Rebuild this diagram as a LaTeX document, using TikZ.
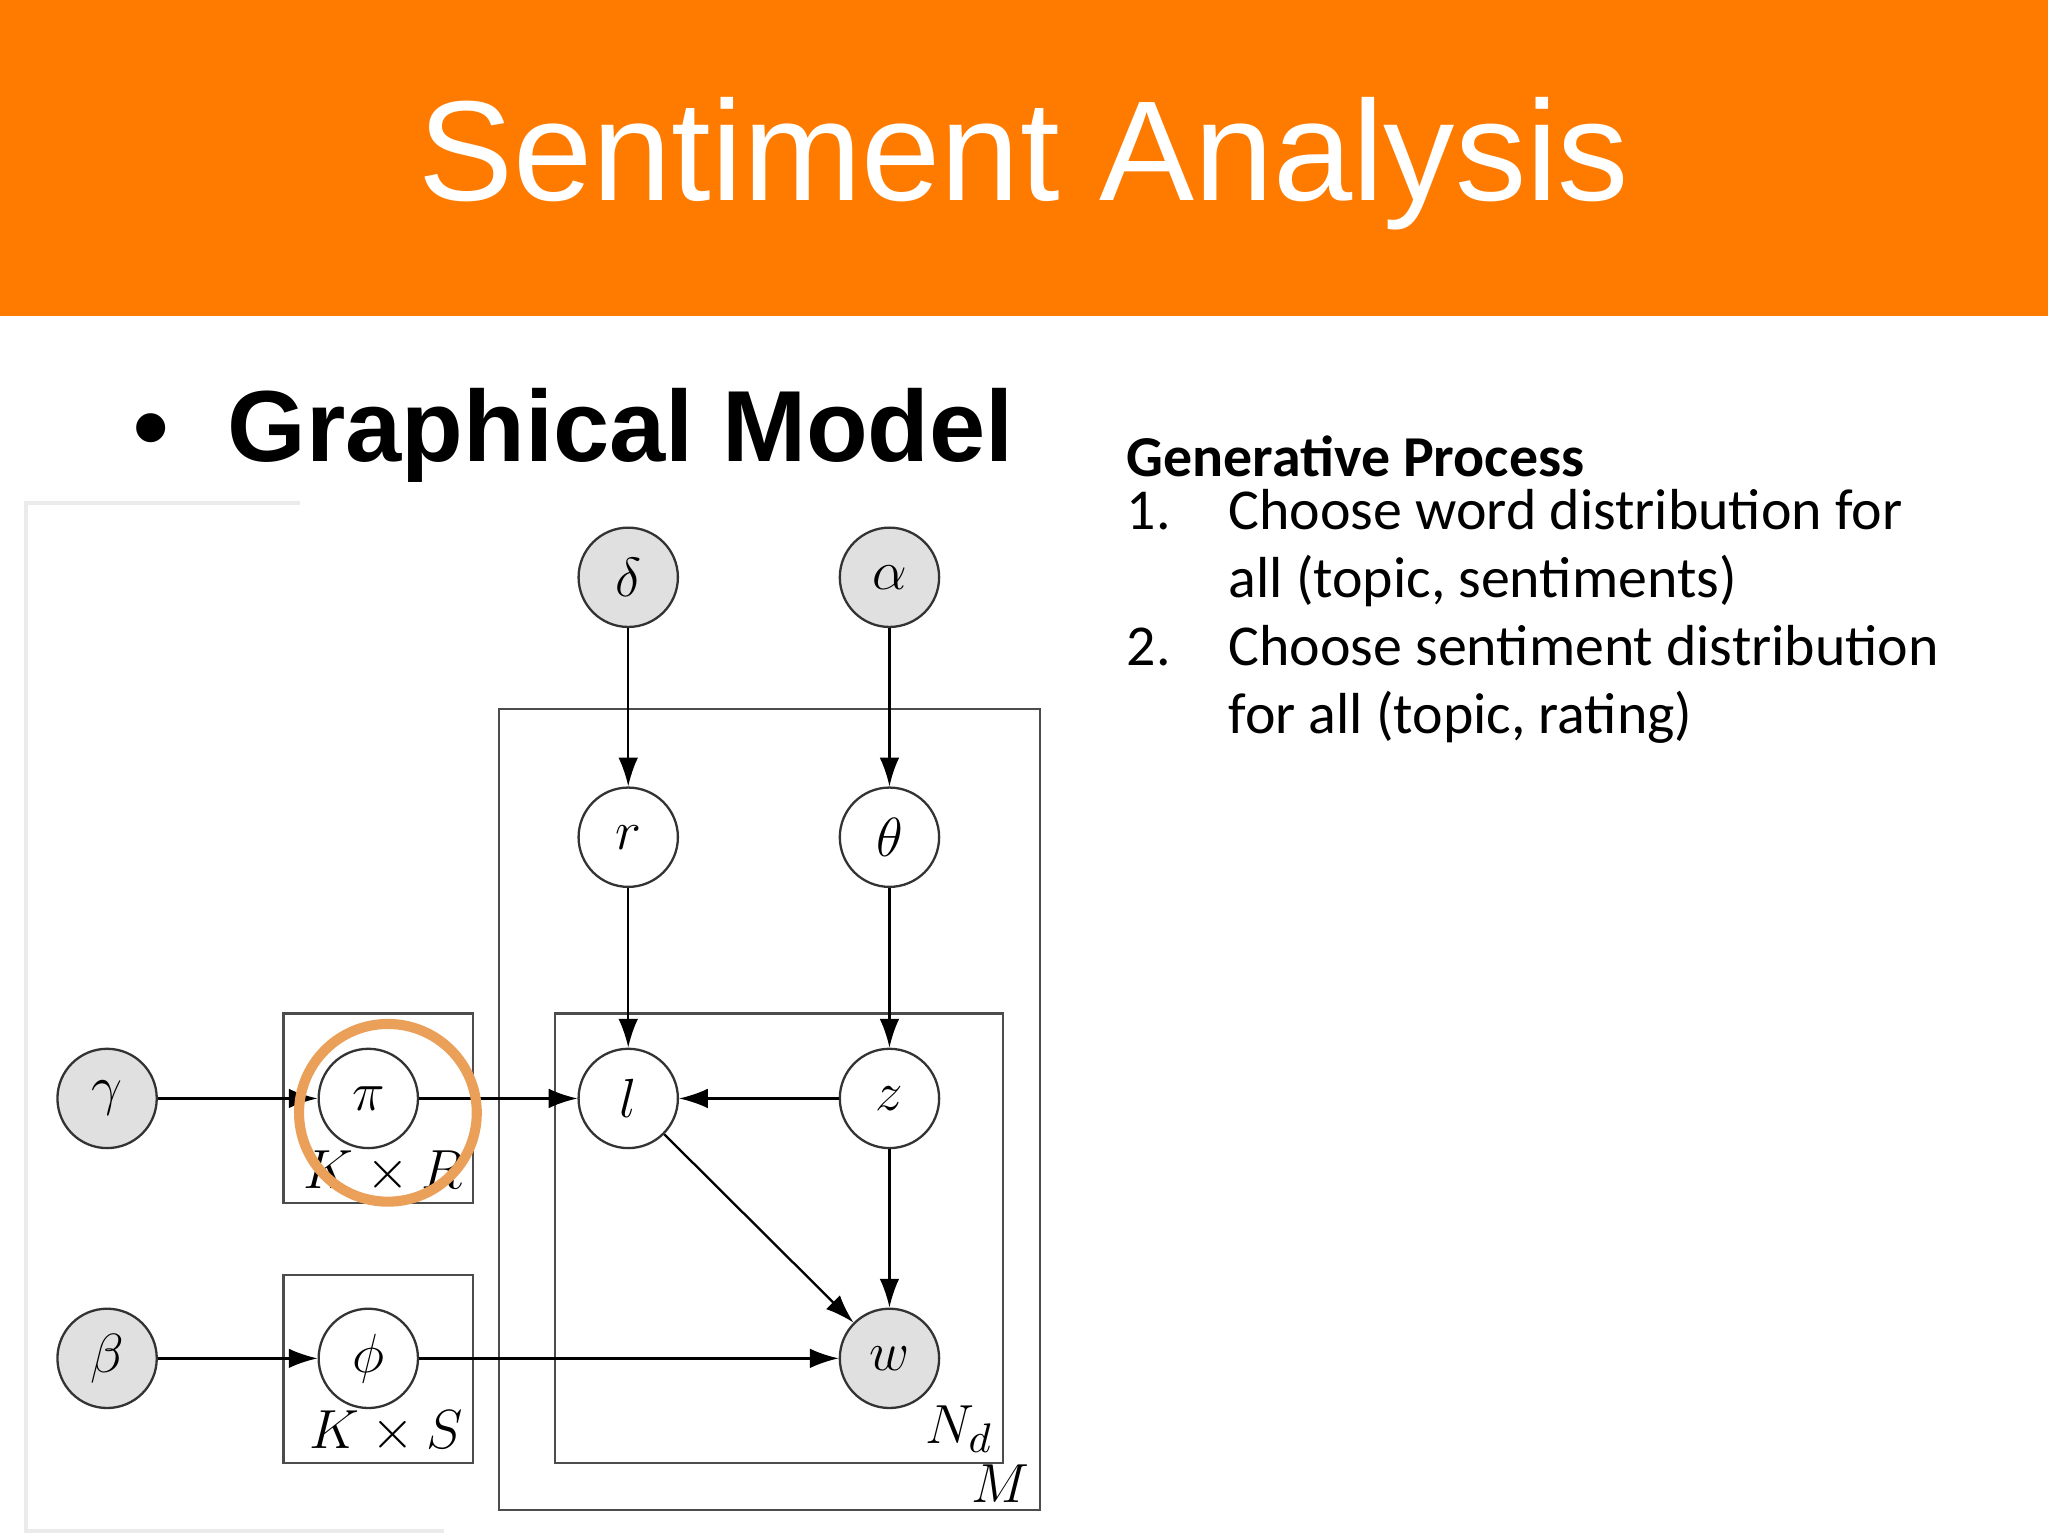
\documentclass[tikz,border=0pt]{standalone}
\usepackage{fontspec}
\setmainfont{Liberation Sans}
\newfontfamily\calib{Carlito}
\usetikzlibrary{arrows.meta}
\begin{document}
\begin{tikzpicture}[x=0.01cm,y=-0.01cm,
  var/.style={circle,draw=black!80,line width=0.5pt,minimum size=0.76cm,inner sep=0pt,font=\fontsize{13}{15}\selectfont},
  obs/.style={var,fill=black!12},
  plate/.style={draw=black!70,line width=0.5pt},
  arr/.style={-{Latex[length=2.2mm,width=1.5mm]},line width=0.5pt},
  pl/.style={font=\fontsize{13}{15}\selectfont,inner sep=2pt}]
\useasboundingbox (0,0) rectangle (1568,1176);
\fill[white] (0,0) rectangle (1568,1176);
\fill[fill={rgb,255:red,255;green,123;blue,0}] (0,0) rectangle (1568,242);
\node[white,font=\fontsize{31}{36}\selectfont] (title) at (784,125) {Sentiment Analysis};
\node[anchor=west,font=\bfseries\fontsize{22}{26}\selectfont] (gm) at (90,333) {\textbullet\hspace{0.45cm}Graphical Model};
\draw[black!8,line width=0.8pt] (230,385) -- (20,385) -- (20,1172) -- (340,1172);
% text
\node[anchor=north west,font=\calib\fontsize{12.6}{14.8}\selectfont,align=left,inner sep=0pt] (gp) at (862,333) {%
\textbf{Generative Process}\\[0pt]
\begin{tabular}{@{}p{0.78cm}@{}l@{}}
1. & Choose word distribution for\\
   & all (topic, sentiments)\\
2. & Choose sentiment distribution\\
   & for all (topic, rating)
\end{tabular}};
% plates
\draw[plate] (382,543) rectangle (796,1156);
\draw[plate] (425,776) rectangle (768,1120);
\draw[plate] (217,776) rectangle (362,921);
\draw[plate] (217,976) rectangle (362,1120);
\node[pl,anchor=south east] (pm) at (796,1158) {$M$};
\node[pl,anchor=south east] (pn) at (768,1120) {$N_d$};
\node[pl,anchor=south east] (pkr) at (362,921) {$K\times R$};
\node[pl,anchor=south east] (pks) at (362,1120) {$K\times S$};
% nodes
\node[obs] (d) at (481,442) {$\delta$};
\node[obs] (a) at (681,442) {$\alpha$};
\node[var] (r) at (481,641) {$r$};
\node[var] (t) at (681,641) {$\theta$};
\node[var] (l) at (481,841) {$l$};
\node[var] (z) at (681,841) {$z$};
\node[obs] (w) at (681,1040) {$w$};
\node[obs] (g) at (82,841) {$\gamma$};
\node[var] (p) at (282,841) {$\pi$};
\node[obs] (b) at (82,1040) {$\beta$};
\node[var] (f) at (282,1040) {$\phi$};
\draw[arr] (d) -- (r);
\draw[arr] (a) -- (t);
\draw[arr] (r) -- (l);
\draw[arr] (t) -- (z);
\draw[arr] (z) -- (l);
\draw[arr] (z) -- (w);
\draw[arr] (l) -- (w);
\draw[arr] (g) -- (p);
\draw[arr] (p) -- (l);
\draw[arr] (b) -- (f);
\draw[arr] (f) -- (w);
\node[circle,draw={rgb,255:red,235;green,160;blue,90},line width=2.2pt,minimum size=1.36cm,inner sep=0pt] (hl) at (297,852) {};
\end{tikzpicture}
\end{document}
